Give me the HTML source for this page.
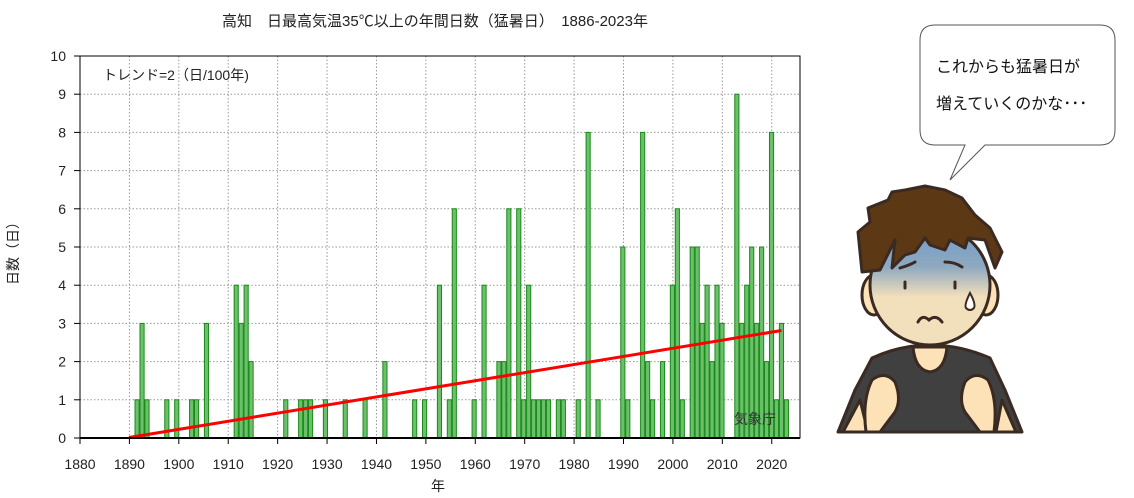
<!DOCTYPE html>
<html><head><meta charset="utf-8"><style>
body{margin:0;background:#fff;}
svg{display:block;font-family:"Liberation Sans","Noto Sans CJK JP",sans-serif;}
</style></head><body>
<svg id="s" width="1134" height="498" viewBox="0 0 1134 498" xmlns="http://www.w3.org/2000/svg">
<defs>
<linearGradient id="fg" x1="0" y1="0" x2="0" y2="1">
<stop offset="0" stop-color="#6f9ac8"/><stop offset="0.35" stop-color="#8fa9c0"/><stop offset="0.6" stop-color="#f2e0bc"/><stop offset="1" stop-color="#f2e0bc"/>
</linearGradient>
</defs>
<text x="435" y="26" font-size="15" text-anchor="middle" fill="#222">高知　日最高気温35℃以上の年間日数（猛暑日）　1886-2023年</text>
<g id="grid" stroke="#999" stroke-dasharray="1.5,2" stroke-width="1"></g>
<g id="bars" fill="#6cc06c" stroke="#1a8a1a" stroke-width="1"></g>
<line x1="129" y1="437.5" x2="781.5" y2="330.5" stroke="#ff0000" stroke-width="3"/>
<rect x="80" y="56" width="720" height="382" fill="none" stroke="#000" stroke-width="1"/>
<line x1="80" y1="438" x2="800" y2="438" stroke="#000" stroke-width="2"/>
<g id="ticks" stroke="#000"></g>
<g id="labels" font-size="14" fill="#222"></g>
<text x="103" y="80" font-size="14" fill="#222">トレンド=2（日/100年)</text>
<text x="734" y="424" font-size="14" fill="#333">気象庁</text>
<text x="438" y="491" font-size="14" text-anchor="middle" fill="#222">年</text>
<text transform="translate(18,250) rotate(-90)" font-size="14" text-anchor="middle" fill="#222">日数（日）</text>
<!-- speech bubble -->
<path d="M935,25 H1100 Q1115,25 1115,40 V130 Q1115,145 1100,145 H985 L950,180 L965,145 H935 Q920,145 920,130 V40 Q920,25 935,25 Z" fill="#fff" stroke="#555" stroke-width="1"/>
<text x="936" y="72" font-size="16" fill="#111">これからも猛暑日が</text>
<text x="936" y="109" font-size="16" fill="#111">増えていくのかな･･･</text>
<!-- character -->
<g stroke="#3a2a22" stroke-width="3" stroke-linejoin="round">
<path d="M838,432 L855,390 L872,358 Q900,345 930,345 Q960,345 990,358 L1005,390 L1022,432 Z" fill="#404040"/>
<path d="M913,347 Q915,370 930,372 Q945,370 947,347 Z" fill="#fde2b8"/>
<path d="M843,432 L860,400 L868,432 Z" fill="#fde2b8"/>
<path d="M1016,432 L1002,400 L996,432 Z" fill="#fde2b8"/>
<path d="M872,380 Q885,370 895,382 Q902,400 895,412 L880,432 L866,432 Q862,400 872,380 Z" fill="#fde2b8"/>
<path d="M988,380 Q975,370 965,382 Q958,400 965,412 L980,432 L994,432 Q998,400 988,380 Z" fill="#fde2b8"/>
<ellipse cx="874" cy="295" rx="12" ry="20" fill="#fde2b8"/>
<ellipse cx="986" cy="295" rx="12" ry="20" fill="#fde2b8"/>
<ellipse cx="930" cy="285" rx="60" ry="60" fill="url(#fg)"/>
<path d="M862,272 L858,232 L870,222 L868,208 L888,200 L892,192 L905,190 L925,186 L945,190 L962,198 L975,215 L990,228 L1002,252 L995,268 L985,240 L968,238 L965,248 L950,240 L945,250 L930,245 L925,238 L915,252 L905,255 L892,268 L895,240 L880,270 Z" fill="#5c3815"/>
</g>
<g fill="#3a2a22" stroke="#3a2a22" stroke-width="3" stroke-linecap="round">
<line x1="905" y1="282" x2="905" y2="288"/><line x1="955" y1="282" x2="955" y2="288"/>
<path d="M945,262 Q955,262 962,267" fill="none"/><path d="M900,268 Q910,265 915,262" fill="none"/>
<path d="M918,322 Q922,314 929,320 Q936,314 942,322" fill="none"/>
</g>
<path d="M970,293 Q964,305 966,308 Q970,312 974,308 Q976,304 970,293 Z" fill="#fff" stroke="#3a2a22" stroke-width="2"/>
</svg>
<script>
var ns="http://www.w3.org/2000/svg";
function el(p,t,a,txt){var e=document.createElementNS(ns,t);for(var k in a)e.setAttribute(k,a[k]);if(txt!==undefined)e.textContent=txt;document.getElementById(p).appendChild(e);}
var X0=80,S=4.941,Y0=438,U=38.2;
for(var v=1;v<10;v++)el("grid","line",{x1:80,x2:800,y1:Y0-v*U,y2:Y0-v*U});
for(var y=1890;y<=2020;y+=10){var x=X0+(y-1880)*S;el("grid","line",{x1:x,x2:x,y1:56,y2:438});}
for(var y=1880;y<=2020;y+=10){var x=X0+(y-1880)*S;el("ticks","line",{x1:x,x2:x,y1:438,y2:444});el("labels","text",{x:x,y:469,"text-anchor":"middle"},y);}
for(var v=0;v<=10;v++){el("ticks","line",{x1:80,x2:74,y1:Y0-v*U,y2:Y0-v*U});el("labels","text",{x:66,y:Y0-v*U+5,"text-anchor":"end"},v);}
var d={1891:1,1892:3,1893:1,1897:1,1899:1,1902:1,1903:1,1905:3,1911:4,1912:3,1913:4,1914:2,1921:1,1924:1,1925:1,1926:1,1929:1,1933:1,1937:1,1941:2,1947:1,1949:1,1952:4,1954:1,1955:6,1959:1,1961:4,1964:2,1965:2,1966:6,1968:6,1969:1,1970:4,1971:1,1972:1,1973:1,1974:1,1976:1,1977:1,1980:1,1982:8,1984:1,1989:5,1990:1,1993:8,1994:2,1995:1,1997:2,1999:4,2000:6,2001:1,2003:5,2004:5,2005:3,2006:4,2007:2,2008:4,2009:3,2012:9,2013:3,2014:4,2015:5,2016:3,2017:5,2018:2,2019:8,2020:1,2021:3,2022:1};
for(var k in d){var i=k-1880;var x=X0+(i+0.1+0.45*i/142)*S;el("bars","rect",{x:x,y:Y0-d[k]*U,width:S-0.8,height:d[k]*U});}
</script>
</body></html>
